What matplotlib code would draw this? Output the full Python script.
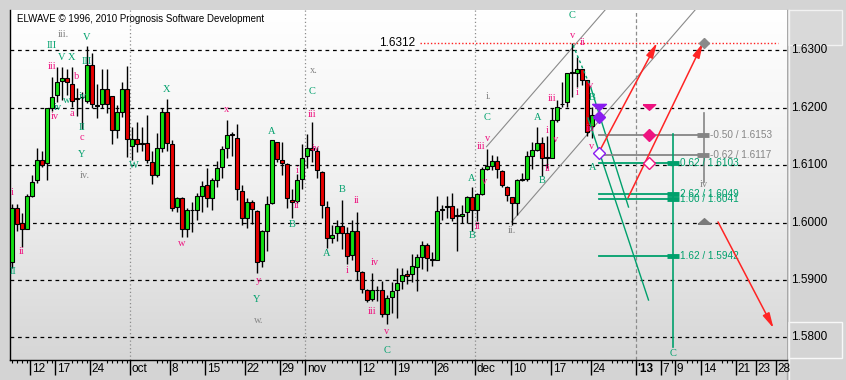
import numpy as np
import matplotlib.pyplot as plt
from matplotlib.colors import LinearSegmentedColormap
from matplotlib.patches import Rectangle
from matplotlib.lines import Line2D
from matplotlib.transforms import blended_transform_factory

W, H = 846, 380

# daily candles
opens = [1.5932, 1.6026, 1.5999, 1.5989, 1.6047, 1.6074, 1.6109, 1.6103, 1.6200, 1.6223,
         1.6247, 1.6251, 1.6242, 1.6215, 1.6218, 1.6212, 1.6274, 1.6203, 1.6206, 1.6232,
         1.6220, 1.6161, 1.6192, 1.6232, 1.6134, 1.6146, 1.6136, 1.6139, 1.6105, 1.6083,
         1.6130, 1.6192, 1.6136, 1.6027, 1.6042, 1.5989, 1.6022, 1.6021, 1.6046, 1.6065,
         1.6042, 1.6074, 1.6096, 1.6129, 1.6153, 1.6147, 1.6055, 1.6008, 1.6036, 1.6020,
         1.5933, 1.5986, 1.6034, 1.6140, 1.6109, 1.6102, 1.6040, 1.6037, 1.6075, 1.6115,
         1.6130, 1.6124, 1.6088, 1.6027, 1.5973, 1.5982, 1.5994, 1.5981, 1.5943, 1.5985,
         1.5914, 1.5883, 1.5867, 1.5882, 1.5882, 1.5840, 1.5871, 1.5882, 1.5898, 1.5911,
         1.5910, 1.5923, 1.5940, 1.5960, 1.5935, 1.5934, 1.6022, 1.6027, 1.6028, 1.6012,
         1.6012, 1.6018, 1.6045, 1.6022, 1.6050, 1.6093, 1.6099, 1.6108, 1.6090, 1.6062,
         1.6044, 1.6034, 1.6074, 1.6075, 1.6116, 1.6126, 1.6138, 1.6113, 1.6113, 1.6178,
         1.6206, 1.6210, 1.6261, 1.6260, 1.6267, 1.6248, 1.6168]
highs = [1.6032, 1.6033, 1.6017, 1.6049, 1.6083, 1.6130, 1.6124, 1.6200, 1.6254, 1.6271,
         1.6271, 1.6268, 1.6271, 1.6235, 1.6227, 1.6308, 1.6295, 1.6242, 1.6267, 1.6267,
         1.6221, 1.6204, 1.6244, 1.6272, 1.6166, 1.6175, 1.6166, 1.6187, 1.6125, 1.6156,
         1.6200, 1.6216, 1.6143, 1.6044, 1.6044, 1.6026, 1.6035, 1.6051, 1.6073, 1.6095,
         1.6078, 1.6108, 1.6134, 1.6178, 1.6157, 1.6171, 1.6066, 1.6042, 1.6040, 1.6021,
         1.5987, 1.6046, 1.6143, 1.6141, 1.6140, 1.6103, 1.6058, 1.6084, 1.6137, 1.6154,
         1.6175, 1.6131, 1.6089, 1.6037, 1.5996, 1.6005, 1.6040, 1.5992, 1.6005, 1.6018,
         1.5915, 1.5884, 1.5912, 1.5889, 1.5898, 1.5874, 1.5896, 1.5921, 1.5921, 1.5917,
         1.5945, 1.5946, 1.5967, 1.5965, 1.5948, 1.6047, 1.6031, 1.6047, 1.6051, 1.6026,
         1.6031, 1.6046, 1.6062, 1.6051, 1.6096, 1.6128, 1.6117, 1.6116, 1.6091, 1.6063,
         1.6045, 1.6075, 1.6087, 1.6125, 1.6140, 1.6167, 1.6149, 1.6151, 1.6200, 1.6213,
         1.6245, 1.6261, 1.6312, 1.6289, 1.6268, 1.6249, 1.6201]
lows = [1.5920, 1.5985, 1.5958, 1.5988, 1.6044, 1.6068, 1.6096, 1.6074, 1.6194, 1.6210,
        1.6213, 1.6222, 1.6201, 1.6185, 1.6163, 1.6208, 1.6200, 1.6182, 1.6200, 1.6190,
        1.6137, 1.6147, 1.6183, 1.6114, 1.6109, 1.6122, 1.6125, 1.6103, 1.6067, 1.6079,
        1.6123, 1.6125, 1.6020, 1.6019, 1.5974, 1.5974, 1.5984, 1.6004, 1.6019, 1.6027,
        1.6021, 1.6061, 1.6077, 1.6113, 1.6115, 1.6040, 1.5996, 1.5991, 1.5998, 1.5912,
        1.5923, 1.5950, 1.6033, 1.6105, 1.6083, 1.6026, 1.6007, 1.6034, 1.6058, 1.6095,
        1.6105, 1.6078, 1.6007, 1.5956, 1.5964, 1.5967, 1.5953, 1.5927, 1.5935, 1.5900,
        1.5877, 1.5861, 1.5864, 1.5864, 1.5836, 1.5824, 1.5842, 1.5834, 1.5884, 1.5893,
        1.5896, 1.5881, 1.5919, 1.5916, 1.5925, 1.5934, 1.6004, 1.6007, 1.6002, 1.5951,
        1.5999, 1.5999, 1.5985, 1.6003, 1.6048, 1.6092, 1.6091, 1.6078, 1.6061, 1.6037,
        1.5995, 1.6013, 1.6073, 1.6072, 1.6093, 1.6124, 1.6081, 1.6095, 1.6112, 1.6175,
        1.6201, 1.6201, 1.6218, 1.6236, 1.6239, 1.6150, 1.6147]
closes = [1.6025, 1.5998, 1.5989, 1.6046, 1.6070, 1.6109, 1.6101, 1.6200, 1.6218, 1.6245,
          1.6251, 1.6245, 1.6212, 1.6215, 1.6218, 1.6274, 1.6206, 1.6204, 1.6233, 1.6206,
          1.6161, 1.6192, 1.6232, 1.6146, 1.6145, 1.6137, 1.6139, 1.6109, 1.6083, 1.6129,
          1.6193, 1.6139, 1.6026, 1.6042, 1.5989, 1.6021, 1.6021, 1.6046, 1.6063, 1.6043,
          1.6074, 1.6095, 1.6128, 1.6153, 1.6153, 1.6058, 1.6007, 1.6036, 1.6023, 1.5931,
          1.5986, 1.6033, 1.6143, 1.6110, 1.6103, 1.6042, 1.6036, 1.6074, 1.6112, 1.6130,
          1.6126, 1.6091, 1.6030, 1.5973, 1.5979, 1.5994, 1.5982, 1.5942, 1.5985, 1.5916,
          1.5884, 1.5865, 1.5882, 1.5883, 1.5841, 1.5869, 1.5880, 1.5895, 1.5909, 1.5907,
          1.5924, 1.5940, 1.5960, 1.5938, 1.5935, 1.6020, 1.6023, 1.6028, 1.6008, 1.6012,
          1.6015, 1.6045, 1.6022, 1.6049, 1.6094, 1.6098, 1.6108, 1.6093, 1.6065, 1.6048,
          1.6034, 1.6074, 1.6075, 1.6116, 1.6126, 1.6138, 1.6113, 1.6113, 1.6178, 1.6202,
          1.6206, 1.6260, 1.6261, 1.6267, 1.6249, 1.6157, 1.6187]

price_levels = [1.5800, 1.5900, 1.6000, 1.6100, 1.6200, 1.6300]

# date axis (positions in bar units)
tick_pos = [3.6, 8.6, 15.6, 23.6, 31.6, 38.6, 46.6, 53.6, 58.6, 69.6, 76.6, 84.6,
            92.6, 99.8, 107.8, 115.8, 124.8, 129.8, 132.6, 137.8, 144.8, 148.8, 152.8]
tick_labels = ["12", "17", "24", "oct", "8", "15", "22", "29", "nov", "12", "19", "26",
               "dec", "10", "17", "24", "'13", "7", "9", "14", "21", "23", "28"]
month_pos = [23.6, 58.6, 92.6]
year_pos = 124.8

# wave labels: text, bar, price, colour key
wave_labels = [
    ("iii.", 10.2, 1.6327, "k"), ("V", 15.0, 1.6323, "g"), ("III", 8.0, 1.6309, "g"),
    ("V", 10.0, 1.6288, "g"), ("X", 12.0, 1.6287, "g"), ("iii", 8.0, 1.6271, "p"),
    ("b", 13.0, 1.6255, "p"), ("III", 15.0, 1.6280, "g"), ("iv", 9.2, 1.6201, "g"),
    ("iv", 8.5, 1.6184, "p"), ("w", 10.9, 1.6212, "g"), ("a", 12.0, 1.6190, "p"),
    ("iv", 14.2, 1.6220, "g"), ("II", 14.0, 1.6165, "g"), ("c", 14.0, 1.6148, "p"),
    ("Y", 14.0, 1.6118, "g"), ("iv.", 14.5, 1.6082, "k"), ("i", 0.0, 1.6052, "p"),
    ("ii", 2.0, 1.5949, "p"), ("II", 0.1, 1.5914, "g"), ("W", 24.3, 1.6100, "g"),
    ("X", 30.9, 1.6232, "g"), ("w", 34.0, 1.5963, "p"), ("x", 43.0, 1.6196, "p"),
    ("A", 52.0, 1.6158, "g"), ("y", 49.3, 1.5899, "p"), ("Y", 49.0, 1.5866, "g"),
    ("w.", 49.3, 1.5829, "k"), ("B", 56.0, 1.5997, "g"), ("i", 57.0, 1.6091, "p"),
    ("ii", 57.0, 1.6029, "p"), ("x.", 60.3, 1.6264, "k"), ("C", 60.1, 1.6229, "g"),
    ("iii", 60.1, 1.6189, "p"), ("iv", 60.7, 1.6129, "p"), ("B", 66.0, 1.6058, "g"),
    ("ii", 69.0, 1.6038, "p"), ("A", 63.0, 1.5946, "g"), ("i", 67.0, 1.5917, "p"),
    ("iv", 72.5, 1.5931, "p"), ("iii", 72.0, 1.5845, "p"), ("v", 75.0, 1.5811, "p"),
    ("C", 75.1, 1.5777, "g"), ("A", 92.0, 1.6077, "g"), ("B", 92.1, 1.5978, "g"),
    ("ii", 93.1, 1.5993, "p"), ("v", 94.5, 1.6071, "p"), ("iii", 93.8, 1.6133, "p"),
    ("v", 95.1, 1.6147, "p"), ("C", 95.1, 1.6183, "g"), ("i.", 95.3, 1.6220, "k"),
    ("ii.", 100.1, 1.5986, "k"), ("B", 106.1, 1.6073, "g"), ("ii", 107.1, 1.6094, "p"),
    ("A", 105.1, 1.6183, "g"), ("i", 107.1, 1.6161, "p"), ("v", 108.8, 1.6144, "p"),
    ("iii", 108.0, 1.6216, "p"), ("i", 113.1, 1.6226, "p"), ("v", 112.1, 1.6325, "p"),
    ("ii", 114.1, 1.6313, "p"), ("C", 112.1, 1.6360, "g"), ("v", 115.8, 1.6238, "p"),
    ("B", 116.1, 1.6217, "g"), ("iii", 115.6, 1.6164, "p"), ("v", 115.9, 1.6132, "p"),
    ("A", 116.1, 1.6096, "g"), ("iv", 138.3, 1.6066, "k"), ("C", 132.3, 1.5772, "g"),
]

# fibonacci targets
fib_ratio = ["-0.50", "-0.62", "0.62", "2.62", "1.00", "1.62"]
fib_price = [1.6153, 1.6117, 1.6103, 1.6049, 1.6041, 1.5942]
fib_key = ["k", "k", "g", "g", "g", "g"]
fib_start = 117.4
fib_end = {"k": 138.2, "g": 132.2}

peak = 1.6312

# channel and projection lines: (bar0, price0, bar1, price1)
channel_lines = [(94.9, 1.6132, 118.6, 1.6370), (99.9, 1.6001, 136.6, 1.6370)]
green_dashed = (112.2, 1.6309, 115.8, 1.6234)
green_lines = [(115.8, 1.6234, 123.3, 1.6027), (115.2, 1.6182, 127.3, 1.5865)]
red_arrows = [(117.6, 1.6126, 129.0, 1.6313), (123.2, 1.6043, 138.2, 1.6313),
              (141.2, 1.6001, 152.3, 1.5816)]

COL = {"p": "#ee1480", "g": "#00a06c", "k": "#858585"}
PURPLE = "#8a1cf0"

fig = plt.figure(figsize=(W / 100, H / 100), dpi=100, facecolor="#d4d4d4")
ax = fig.add_axes([10 / W, 20 / H, 777 / W, 350 / H])
ax.set_zorder(1)
x0, x1 = -0.4, 155.0
y0, y1 = 1.57605, 1.63702
ax.set_xlim(x0, x1)
ax.set_ylim(y0, y1)

grad = np.linspace(0, 1, 256).reshape(-1, 1)
bg = LinearSegmentedColormap.from_list("bg", ["#ffffff", "#f0f0f0", "#d6d6d6"])
ax.imshow(grad, cmap=bg, extent=(x0, x1, y0, y1), aspect="auto", origin="upper", zorder=0)

for lv in price_levels:
    ax.axhline(lv, color="black", lw=0.9, ls=(0, (3, 3)), zorder=1)
for m in month_pos:
    ax.axvline(m, color="#8c8c8c", lw=0.9, ls=(0, (1, 2)), zorder=1)
ax.axvline(year_pos, color="#8c8c8c", lw=0.9, ls=(0, (3, 2)), zorder=1)

# candles
o = np.array(opens)
c = np.array(closes)
idx = np.arange(len(o))
cols = np.where(c >= o, "#14e014", "#e80000")
ax.vlines(idx, lows, highs, color="black", lw=1, zorder=3)
ax.bar(idx, np.maximum(np.abs(c - o), 0.00012), bottom=np.minimum(o, c), width=0.66,
       color=cols, edgecolor="black", linewidth=0.8, zorder=4)

# channel
for a0, p0, a1, p1 in channel_lines:
    ax.plot([a0, a1], [p0, p1], color="#8a8a8a", lw=0.8, zorder=2)

ax.plot([green_dashed[0], green_dashed[2]], [green_dashed[1], green_dashed[3]],
        color=COL["g"], lw=1, ls=(0, (2, 2)), zorder=5)
for a0, p0, a1, p1 in green_lines:
    ax.plot([a0, a1], [p0, p1], color=COL["g"], lw=1, zorder=5)

# 1.6312 high
ax.plot([81.6, 153.2], [peak, peak], color="#ff2020", lw=1, ls=(0, (1, 1.5)), zorder=2)
ax.text(80.6, peak, f"{peak:.4f}", ha="right", va="center", fontsize=8.5,
        family="Liberation Sans", zorder=6)

# fibonacci targets
for r, p, k in zip(fib_ratio, fib_price, fib_key):
    e = fib_end[k]
    ax.plot([fib_start, e], [p, p], color=COL[k], lw=1.3, zorder=5)
    ax.plot([e], [p], marker="_", ms=8, mew=3.5, color=COL[k], zorder=6)
    ax.text(e + 1.4, p, f"{r} / {p:.4f}", color=COL[k], ha="left", va="center",
            fontsize=7.2, family="Liberation Sans", zorder=6)
ax.plot([132.2, 132.2], [1.5783, 1.6155], color=COL["g"], lw=1.2, zorder=5)
ax.plot([138.3, 138.3], [1.6070, 1.6191], color=COL["k"], lw=1.2, zorder=5)

# projection arrows
for a0, p0, a1, p1 in red_arrows:
    ax.annotate("", xy=(a1, p1), xytext=(a0, p0),
                arrowprops=dict(arrowstyle="-|>,head_length=0.9,head_width=0.22",
                                color="#ff2424", lw=1.1, shrinkA=0, shrinkB=0), zorder=6)

# target markers
flat_down = [(-1, 0.45), (1, 0.45), (0, -0.45), (-1, 0.45)]
flat_up = [(-1, -0.45), (1, -0.45), (0, 0.45), (-1, -0.45)]
ax.plot([117.3], [1.6202], marker=flat_down, ms=10, color=PURPLE, ls="none", zorder=7)
ax.plot([117.3], [1.6184], marker="D", ms=6, color=PURPLE, ls="none", zorder=7)
ax.plot([117.3], [1.6121], marker="D", ms=6, mfc="white", mec=PURPLE, mew=1, ls="none", zorder=7)
ax.plot([127.3], [1.6202], marker=flat_down, ms=9, color=COL["p"], ls="none", zorder=7)
ax.plot([127.3], [1.6153], marker="D", ms=6, color=COL["p"], ls="none", zorder=7)
ax.plot([127.3], [1.6104], marker="D", ms=6, mfc="white", mec=COL["p"], mew=1, ls="none", zorder=7)
ax.plot([138.3], [1.6002], marker=flat_up, ms=9, color="#7a7a7a", ls="none", zorder=7)
ax.plot([138.3], [1.6312], marker="D", ms=5, color="#8a8a8a", ls="none", zorder=7)

# wave labels
for t, b, p, k in wave_labels:
    ax.text(b, p, t, color=COL[k], ha="center", va="center", fontsize=7.5,
            family="Liberation Serif", zorder=8)

ax.text(1.0, 1.6355, "ELWAVE \u00a9 1996, 2010 Prognosis Software Development",
        ha="left", va="center", fontsize=7, family="Liberation Sans", zorder=8)

# axes look
ax.set_yticks([])
for s in ["top", "right"]:
    ax.spines[s].set_visible(False)
for s in ["left", "bottom"]:
    ax.spines[s].set_color("black")
    ax.spines[s].set_linewidth(1)
ax.set_xticks(tick_pos)
ax.set_xticklabels([])
minor = [m for m in np.arange(0, 155, 1.0)
         if not any(tp - 0.3 < m < tp + 1.3 * len(tl) + 0.8 for tp, tl in zip(tick_pos, tick_labels))]
ax.set_xticks(minor, minor=True)
ax.tick_params(axis="x", which="major", length=10.5, width=1, color="black")
ax.tick_params(axis="x", which="minor", length=2.5, width=0.8, color="black")

trx = blended_transform_factory(ax.transData, fig.transFigure)
for tp, tl in zip(tick_pos, tick_labels):
    ax.text(tp + 0.35, (H - 369) / H, tl, transform=trx, ha="left", va="center",
            fontsize=8.5, family="Liberation Sans",
            fontweight="bold" if tl.startswith("'") else "normal", clip_on=False)

# right price panel (boxes below the axes so the labels stay on top)
fig.add_artist(Rectangle((788 / W, (H - 45) / H), 54 / W, 35 / H, transform=fig.transFigure,
                         fc="#d9d9d9", ec="#f2f2f2", lw=1, zorder=-1))
fig.add_artist(Rectangle((788 / W, (H - 358) / H), 54 / W, 36 / H, transform=fig.transFigure,
                         fc="#d4d4d4", ec="#f8f8f8", lw=1, zorder=-1))
fig.add_artist(Line2D([787 / W, 787 / W], [0, (H - 10) / H], transform=fig.transFigure,
                      color="#a8a8a8", lw=1, zorder=-1))
fig.add_artist(Line2D([788.5 / W, 788.5 / W], [0, (H - 10) / H], transform=fig.transFigure,
                      color="#f4f4f4", lw=1, zorder=-1))
trp = blended_transform_factory(fig.transFigure, ax.transData)
for lv in price_levels:
    ax.text(791 / W, lv, f"{lv:.4f}", transform=trp, ha="left", va="center",
            fontsize=8.5, family="Liberation Sans", clip_on=False)

fig.savefig("out.png", dpi=100, facecolor=fig.get_facecolor())
